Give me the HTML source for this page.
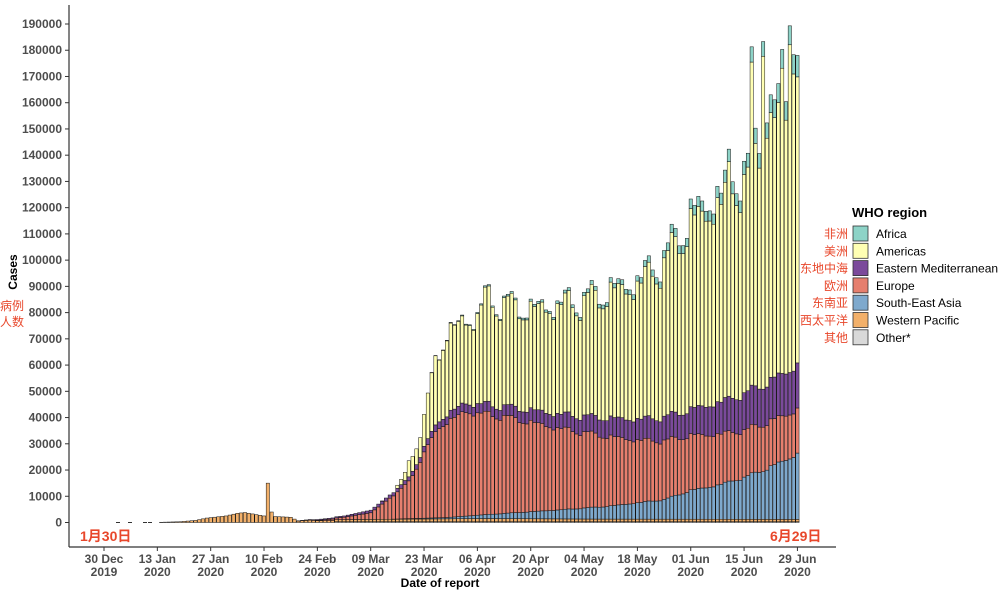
<!DOCTYPE html>
<html><head><meta charset="utf-8"><style>
body{margin:0;background:#fff;width:1000px;height:594px;overflow:hidden}
svg text{font-family:"Liberation Sans","Noto Sans CJK SC",sans-serif}
</style></head><body>
<svg id="s" width="1000" height="594" xmlns="http://www.w3.org/2000/svg">
<g id="bars"></g>
<line x1="69" y1="5" x2="69" y2="547" stroke="#333" stroke-width="1.2"/>
<line x1="69" y1="547" x2="836" y2="547" stroke="#333" stroke-width="1.2"/>
<g id="yt" font-size="12" font-weight="bold" fill="#4d4d4d" text-anchor="end"></g>
<g id="xt" font-size="12" font-weight="bold" fill="#4d4d4d" text-anchor="middle"></g>
<text x="440" y="587" font-size="12" font-weight="bold" fill="#000" text-anchor="middle">Date of report</text>
<text transform="translate(17,272) rotate(-90)" font-size="12" font-weight="bold" text-anchor="middle">Cases</text>
<text x="0" y="310" font-size="12" fill="#e8472b">病例</text>
<text x="0" y="326" font-size="12" fill="#e8472b">人数</text>
<text x="80" y="541" font-size="14" font-weight="bold" fill="#e8472b">1月30日</text>
<text x="770" y="541" font-size="14" font-weight="bold" fill="#e8472b">6月29日</text>
<text x="852" y="217" font-size="13" font-weight="bold">WHO region</text>
<g id="leg" font-size="12"></g>
</svg>
<script>
var NS="http://www.w3.org/2000/svg";
function el(t,a,p,txt){var e=document.createElementNS(NS,t);for(var k in a)e.setAttribute(k,a[k]);if(txt)e.textContent=txt;p.appendChild(e);return e;}
function interp(pts,d){if(d<=pts[0][0])return pts[0][1];for(var i=1;i<pts.length;i++){if(d<=pts[i][0]){var a=pts[i-1],b=pts[i];return a[1]+(b[1]-a[1])*(d-a[0])/(b[0]-a[0]);}}return pts[pts.length-1][1];}
var x0=104,pd=3.81,y0=522.5,sc=498.5/190000;
var yt=document.getElementById('yt');
for(var v=0;v<=190000;v+=10000){var y=y0-v*sc;el('text',{x:62,y:y+4},yt,String(v));el('line',{x1:65,y1:y,x2:69,y2:y,stroke:'#333'},document.getElementById('s'));}
var xt=document.getElementById('xt');
var labs=[["30 Dec","2019"],["13 Jan","2020"],["27 Jan","2020"],["10 Feb","2020"],["24 Feb","2020"],["09 Mar","2020"],["23 Mar","2020"],["06 Apr","2020"],["20 Apr","2020"],["04 May","2020"],["18 May","2020"],["01 Jun","2020"],["15 Jun","2020"],["29 Jun","2020"]];
labs.forEach(function(l,i){var x=x0+i*14*pd;el('line',{x1:x,y1:547,x2:x,y2:551,stroke:'#333'},document.getElementById('s'));el('text',{x:x,y:563},xt,l[0]);el('text',{x:x,y:576},xt,l[1]);});
var T=[[0,0],[14,0],[15,100],[20,300],[24,800],[27,1700],[32,2500],[35,3500],[37,3800],[40,3000],[42,2500],[43,2400],[46,2200],[49,2000],[51,600],[54,900],[56,1000],[63,1800],[68,3000],[70,4000],[75,10000],[79,18000],[82,30000],[84,40000],[87,62000],[90,73000],[98,80000],[100,86000],[112,82000],[126,86000],[140,93000],[147,102000],[154,118000],[161,126000],[168,136000],[175,156000],[182,174000]];
var WP=[[0,0],[14,0],[15,100],[20,300],[24,800],[27,1700],[32,2500],[35,3500],[37,3800],[40,3000],[42,2500],[46,2200],[49,2000],[51,600],[54,900],[56,700],[70,900],[100,1200],[130,1000],[182,900]];
var EU=[[55,0],[63,900],[70,2500],[75,8000],[80,14000],[84,25000],[88,35000],[95,40000],[105,37000],[120,31000],[140,24000],[154,21000],[168,18000],[182,17000]];
var SEA=[[75,0],[90,500],[105,2000],[120,3500],[133,5000],[147,7500],[154,11000],[161,13000],[168,16000],[175,20000],[182,25000]];
var EM=[[50,0],[55,300],[63,500],[70,1000],[80,1500],[90,3000],[105,4000],[120,5500],[140,8000],[154,10000],[168,14000],[182,17000]];
var AF=[[85,0],[90,200],[120,1000],[140,2000],[154,3500],[168,5000],[182,8000]];
var wk=[1.0,1.02,1.04,1.02,0.98,0.92,0.95];
var over={43:15000,44:4000,170:181000,173:183000,174:152000,177:167000,178:180000,180:189000,181:178000,164:142000,171:150000};
var cols=['#d9d9d9','#f2b06a','#7ea9cd','#e67f6e','#7b4a9b','#ffffb3','#8dd3c7'];
var g=document.getElementById('bars');
for(var d=15;d<=182;d++){
  var n=1+0.025*Math.sin(d*2.7)+0.02*Math.cos(d*5.1);
  var f=d>70?wk[d%7]*n:1;
  var f2=d>75?(1+(f-1)*0.5):1;
  var tot=interp(T,d)*f;
  var wp=interp(WP,d);
  if(d==43)wp=15000;if(d==44)wp=4000;
  if(d<=56)tot=wp;
  var eu=interp(EU,d)*f2,se=interp(SEA,d)*f2,em=interp(EM,d)*f2,af=interp(AF,d)*f;
  if(over[d]&&d>100)tot=over[d];
  var am=Math.max(0,tot-wp-eu-se-em-af);
  if(d<70)am=0;
  var segs=[300*(d>60?1:0),wp,se,eu,em,am,af];
  var base=0,x=x0+d*pd-1.65;
  for(var i=0;i<7;i++){var h=segs[i];if(h<=0)continue;var yb=y0-base*sc,yt2=y0-(base+h)*sc;
    el('rect',{x:x,y:yt2,width:3.3,height:Math.max(0.3,yb-yt2),fill:cols[i],stroke:'#111','stroke-width':0.5},g);base+=h;}
}
[[116,132],[143,152]].forEach(function(a){el('line',{x1:a[0],y1:y0,x2:a[0]+4,y2:y0,stroke:'#333'},g);el('line',{x1:a[1]-4,y1:y0,x2:a[1],y2:y0,stroke:'#333'},g);});
var leg=document.getElementById('leg');
var names=["Africa","Americas","Eastern Mediterranean","Europe","South-East Asia","Western Pacific","Other*"];
var cn=["非洲","美洲","东地中海","欧洲","东南亚","西太平洋","其他"];
var lc=['#8dd3c7','#ffffb3','#7b4a9b','#e67f6e','#7ea9cd','#f2b06a','#d9d9d9'];
for(var i=0;i<7;i++){var y=226+i*17.3;
  el('rect',{x:853,y:y,width:15,height:15,fill:lc[i],stroke:'#333','stroke-width':0.8},leg);
  el('text',{x:876,y:y+12},leg,names[i]);
  el('text',{x:848,y:y+12,'text-anchor':'end',fill:'#e8472b'},leg,cn[i]);}
</script>
</body></html>
